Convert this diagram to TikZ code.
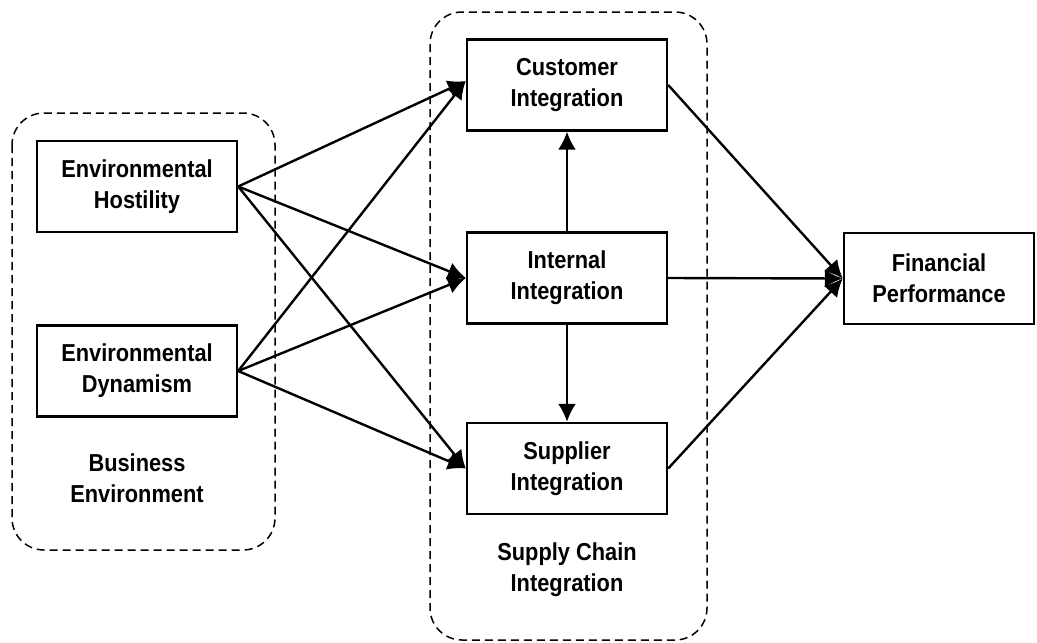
\documentclass[tikz,border=0pt]{standalone}
\usepackage{fontspec}
\setmainfont{Liberation Sans}[FakeStretch=0.89]
\usetikzlibrary{arrows.meta}
\begin{document}
\begin{tikzpicture}[x=1pt,y=-1pt,
  box/.style={draw,line width=2.4pt,minimum width=200pt,minimum height=91pt,inner sep=0pt,
    align=center,font=\fontsize{24.5}{31}\selectfont\bfseries},
  lbl/.style={align=center,font=\fontsize{24.5}{31}\selectfont\bfseries},
  grp/.style={draw,line width=1.5pt,rounded corners=32pt,dash pattern=on 8pt off 5pt},
  conn/.style={line width=2.4pt,-{Latex[length=18pt,width=18pt]}}]
\useasboundingbox (0,0) rectangle (1037,643);
\draw[grp] (12,113) rectangle (275,550);
\draw[grp] (430,12) rectangle (707,640);
\node[box] (eh) at (137,186.5) {Environmental\\Hostility};
\node[box] (ed) at (137,371) {Environmental\\Dynamism};
\node[lbl] (be) at (137,478) {Business\\Environment};
\node[box] (ci) at (567,85) {Customer\\Integration};
\node[box] (ii) at (567,278) {Internal\\Integration};
\node[box] (si) at (567,468.5) {Supplier\\Integration};
\node[lbl] (sc) at (567,570) {Supply Chain\\Integration};
\node[box,minimum width=190pt] (fp) at (939,278.5) {Financial\\Performance};
\draw[conn] (eh.east) -- ([yshift=4pt]ci.west);
\draw[conn] (eh.east) -- (ii.west);
\draw[conn] (eh.east) -- (si.west);
\draw[conn] (ed.east) -- ([yshift=4pt]ci.west);
\draw[conn] (ed.east) -- (ii.west);
\draw[conn] (ed.east) -- (si.west);
\draw[conn] (ii.north) -- (ci.south);
\draw[conn] (ii.south) -- (si.north);
\draw[conn] (ci.east) -- (fp.west);
\draw[conn] (ii.east) -- (fp.west);
\draw[conn] (si.east) -- (fp.west);
\end{tikzpicture}
\end{document}
